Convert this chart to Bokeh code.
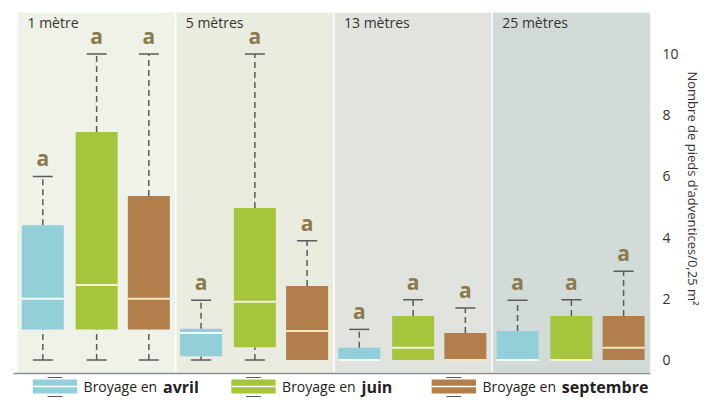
import numpy as np
from bokeh.plotting import figure
from bokeh.layouts import column
from bokeh.models import ColumnDataSource, FixedTicker, Range1d
from bokeh.core.properties import value
from bokeh.embed import file_html
from bokeh.resources import INLINE

# ---------------- data ----------------
distances = ["1 mètre", "5 mètres", "13 mètres", "25 mètres"]
treatments = ["avril", "juin", "septembre"]
colors = ["#93cfd8", "#a6c43c", "#b27f4c"]
median_colors = ["#f4fbfb", "#f3f7d8", "#f8e7c4"]
panel_bg = ["#eef2e8", "#ebece0", "#e1e3de", "#d3dbd9"]

avril_low = [0, 0, 0, 0]
avril_q1 = [1.0, 0.12, 0, 0]
avril_med = [2.0, 0.88, 0, 0]
avril_q3 = [4.4, 1.02, 0.4, 0.95]
avril_high = [6.0, 1.95, 1.0, 1.95]

juin_low = [0, 0, 0, 0]
juin_q1 = [1.0, 0.42, 0, 0]
juin_med = [2.45, 1.9, 0.4, 0]
juin_q3 = [7.45, 4.97, 1.44, 1.44]
juin_high = [10.0, 10.0, 1.97, 1.97]

sept_low = [0, 0, 0, 0]
sept_q1 = [1.0, 0, 0, 0]
sept_med = [2.0, 0.95, 0, 0.4]
sept_q3 = [5.36, 2.42, 0.88, 1.44]
sept_high = [10.0, 3.9, 1.7, 2.9]

letters_avril = ["a", "a", "a", "a"]
letters_juin = ["a", "a", "a", "a"]
letters_sept = ["a", "a", "a", "a"]

yticks = [0, 2, 4, 6, 8, 10]
y_label = "Nombre de pieds d'adventices/0,25 m²"
legend_prefix = "Broyage en"

series = [
    (avril_low, avril_q1, avril_med, avril_q3, avril_high, letters_avril),
    (juin_low, juin_q1, juin_med, juin_q3, juin_high, letters_juin),
    (sept_low, sept_q1, sept_med, sept_q3, sept_high, letters_sept),
]

# ---------------- layout helpers (page pixel -> data) ----------------
FRAME_W = 650
PX = (FRAME_W - 17) / 4.0   # pixels per panel
PY = 30.6                    # pixels per y unit
def rx(px):
    return (px - 17) / PX - 0.5
def ry(py):
    return (359.5 - py) / PY

offsets = [-0.34, 0.0, 0.33]
box_w = 42 / PX
cap_w = 20 / PX
FONT = "Open Sans"
whisk = "#5a5a5a"
letter_color = "#8a7a4e"

p = figure(frame_width=FRAME_W, frame_height=376, output_backend="svg",
           toolbar_location=None, y_axis_location="right",
           x_range=Range1d(rx(0), rx(FRAME_W)),
           y_range=Range1d(ry(376), ry(0)),
           min_border_left=0, min_border_top=0, min_border_bottom=0,
           min_border_right=0)
p.outline_line_color = None
p.xgrid.visible = False
p.ygrid.visible = False
p.xaxis.visible = False
p.background_fill_color = "white"
p.border_fill_color = "white"

n = len(distances)
idx = np.arange(n)
# panel backgrounds
p.quad(left=idx - 0.5, right=idx + 0.5, bottom=ry(372), top=ry(12),
       fill_color=panel_bg, line_color=None)
# panel separators
p.segment(x0=idx[1:] - 0.5, y0=[ry(372)] * (n - 1), x1=idx[1:] - 0.5,
          y1=[ry(12)] * (n - 1), line_color="white", line_width=1.5)
# bottom line
p.segment(x0=[rx(13)], y0=[ry(373)], x1=[3.5], y1=[ry(373)],
          line_color="#8c8c8c", line_width=1.5)

# panel titles
p.text(x=idx - 0.5 + 10 / PX, y=[ry(22)] * n, text=distances,
       text_font=value(FONT), text_font_size="14px", text_color="#333333",
       text_baseline="middle", text_align="left")

for k, (lo, q1, med, q3, hi, let) in enumerate(series):
    x = idx + offsets[k]
    src = ColumnDataSource(dict(x=x, lo=lo, q1=q1, med=med, q3=q3, hi=hi,
                                let=let, ly=np.array(hi) + 4 / PY))
    # upper whisker
    p.segment(x0="x", y0="q3", x1="x", y1="hi", source=src,
              line_color=whisk, line_width=1.5, line_dash="6 4")
    # upper caps
    p.segment(x0=x - cap_w / 2, y0=hi, x1=x + cap_w / 2, y1=hi,
              line_color=whisk, line_width=1.5)
    # lower whiskers/caps where present
    lo_a, q1_a = np.array(lo), np.array(q1)
    m = lo_a < q1_a
    if m.any():
        p.segment(x0=x[m], y0=lo_a[m], x1=x[m], y1=q1_a[m],
                  line_color=whisk, line_width=1.5, line_dash="6 4")
        p.segment(x0=x[m] - cap_w / 2, y0=lo_a[m], x1=x[m] + cap_w / 2,
                  y1=lo_a[m], line_color=whisk, line_width=1.5)
    # boxes
    p.vbar(x="x", bottom="q1", top="q3", width=box_w, source=src,
           fill_color=colors[k], line_color=None)
    # medians
    p.segment(x0=x - box_w / 2, y0=med, x1=x + box_w / 2, y1=med,
              line_color=median_colors[k], line_width=2)
    # significance letters
    p.text(x="x", y="ly", text="let", source=src,
           text_font=value(FONT), text_font_size="21px",
           text_color=letter_color, text_align="center",
           text_baseline="bottom", text_font_style="bold")

# right axis
ax = p.yaxis[0]
ax.ticker = FixedTicker(ticks=yticks)
ax.axis_line_color = None
ax.major_tick_line_color = None
ax.minor_tick_line_color = None
ax.major_label_text_font = FONT
ax.major_label_text_font_size = "14px"
ax.major_label_text_color = "#333333"
ax.major_label_standoff = 6
ax.axis_label = y_label
ax.axis_label_text_font = FONT
ax.axis_label_text_font_size = "13px"
ax.axis_label_text_font_style = "normal"
ax.axis_label_text_color = "#333333"
ax.axis_label_standoff = 2

# ---------------- legend strip (page pixel coordinates) ----------------
leg = figure(width=704, height=34, output_backend="svg", toolbar_location=None,
             x_range=Range1d(0, 704), y_range=Range1d(410, 376),
             min_border=0)
leg.outline_line_color = None
leg.axis.visible = False
leg.grid.visible = False
leg.background_fill_color = "white"
leg.border_fill_color = "white"

leg_text_x = [90, 305, 522]
leg_y = 386
for k in range(3):
    cx = leg_text_x[k] - 31
    leg.quad(left=[cx - 24], right=[cx + 24], bottom=[393], top=[379],
             fill_color=colors[k], line_color=None)
    leg.segment(x0=[cx - 24], y0=[386], x1=[cx + 24], y1=[386],
                line_color="white", line_width=1.5)
    leg.segment(x0=[cx - 8, cx - 8], y0=[377, 396], x1=[cx + 8, cx + 8],
                y1=[377, 396], line_color=whisk, line_width=1.2)
    leg.text(x=[leg_text_x[k]], y=[leg_y], text=[legend_prefix],
             text_font=value(FONT), text_font_size="14px",
             text_color="#222222", text_baseline="middle", text_align="left")
    leg.text(x=[leg_text_x[k] + 86], y=[leg_y], text=[treatments[k]],
             text_font=value(FONT), text_font_size="16px",
             text_color="#222222", text_baseline="middle", text_align="left",
             text_font_style="bold")

open("out.html", "w").write(file_html(column(p, leg), INLINE))
